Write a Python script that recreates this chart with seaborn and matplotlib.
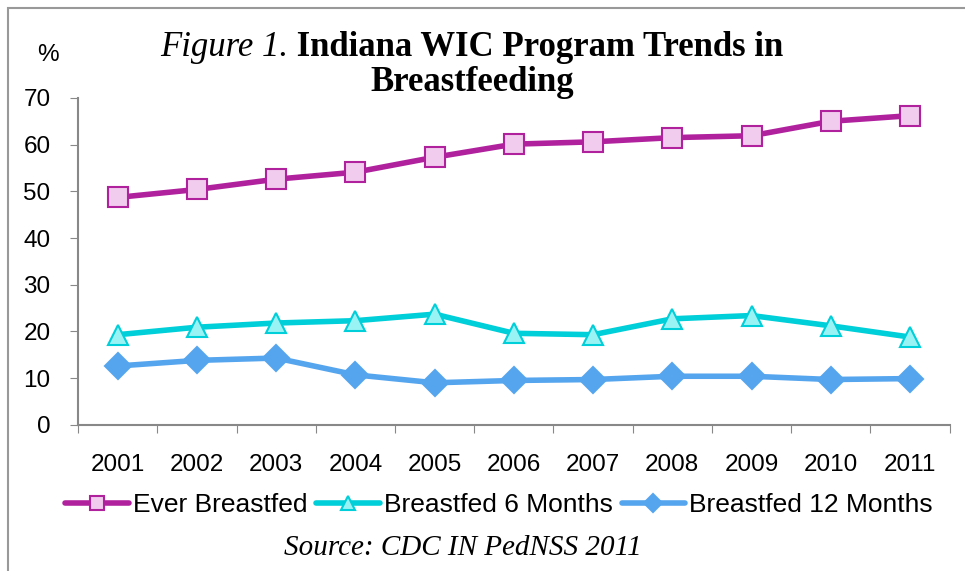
import pandas as pd
import matplotlib.pyplot as plt
import seaborn as sns
from matplotlib.patches import Rectangle
from matplotlib.ticker import FixedLocator

# data
years = ["2001", "2002", "2003", "2004", "2005", "2006", "2007", "2008", "2009", "2010", "2011"]
ever_breastfed = [48.7, 50.4, 52.6, 54.1, 57.3, 60.1, 60.6, 61.5, 61.9, 65.0, 66.2]
breastfed_6m = [19.3, 20.9, 21.8, 22.3, 23.7, 19.6, 19.3, 22.7, 23.4, 21.2, 18.8]
breastfed_12m = [12.6, 13.8, 14.3, 10.7, 9.0, 9.5, 9.7, 10.4, 10.4, 9.7, 9.9]

series_names = ["Ever Breastfed", "Breastfed 6 Months", "Breastfed 12 Months"]
line_colors = ["#B0219E", "#00CED8", "#55A5EE"]
face_colors = ["#F2CCEE", "#99F3F5", "#55A5EE"]
markers = ["s", "^", "D"]
marker_sizes = [14, 15, 13]

df = pd.DataFrame({
    "pos": list(range(len(years))) * 3,
    "value": ever_breastfed + breastfed_6m + breastfed_12m,
    "series": [n for n in series_names for _ in years],
})

sns.set_style("white", {"text.color": "black", "xtick.color": "black", "ytick.color": "black"})
plt.rcParams["font.family"] = ["Liberation Sans", "DejaVu Sans"]

W, H = 965, 571
fig = plt.figure(figsize=(9.65, 5.71), dpi=100)
ax = fig.add_axes([0.081, 0.256, 0.903, 0.5725])

for name, lc, fc, mk, ms in zip(series_names, line_colors, face_colors, markers, marker_sizes):
    sub = df[df["series"] == name]
    sns.lineplot(data=sub, x="pos", y="value", ax=ax, color=lc, linewidth=4.0,
                 marker=mk, markersize=ms, markerfacecolor=fc, markeredgecolor=lc,
                 markeredgewidth=1.5, label=name)

ax.set_xlim(-0.5, len(years) - 0.5)
ax.set_ylim(0, 70)
ax.set_yticks(range(0, 71, 10))
ax.xaxis.set_major_locator(FixedLocator([i - 0.5 for i in range(len(years) + 1)]))
ax.xaxis.set_minor_locator(FixedLocator(list(range(len(years)))))
ax.set_xticklabels([])
ax.set_xticklabels(years, minor=True)
ax.tick_params(axis="x", which="major", length=6, color="#888888", direction="out", bottom=True)
ax.tick_params(axis="x", which="minor", length=0, pad=21, labelsize=17.5, labelcolor="black")
ax.tick_params(axis="y", length=6, color="#888888", direction="out", left=True, pad=14,
               labelsize=17.5, labelcolor="black")
ax.set_xlabel("")
ax.set_ylabel("")
for s in ["top", "right"]:
    ax.spines[s].set_visible(False)
for s in ["left", "bottom"]:
    ax.spines[s].set_color("#888888")
    ax.spines[s].set_linewidth(1.5)

leg = ax.legend(loc="center", bbox_to_anchor=(499 / W, 1 - 505 / H), bbox_transform=fig.transFigure,
                ncol=3, frameon=False, fontsize=19, handlelength=2.4, handletextpad=0.15,
                columnspacing=0.35, markerscale=0.7)
for t in leg.get_texts():
    t.set_color("black")

# titles
fig.text(48 / W, 1 - 55 / H, "%", fontsize=17.5, ha="center", va="center", color="black")
t1 = fig.text(0, 1 - 47 / H, "Figure 1.", family="Liberation Serif",
              style="italic", fontsize=25, va="center", ha="left", color="black")
t2 = fig.text(0, 1 - 47 / H, " Indiana WIC Program Trends in",
              family="Liberation Serif", weight="bold", fontsize=25, va="center", ha="left", color="black")
fig.canvas.draw()
w1 = t1.get_window_extent().width
w2 = t2.get_window_extent().width
x0 = 472 - (w1 + w2) / 2
t1.set_x(x0 / W)
t2.set_x((x0 + w1) / W)
fig.text(472 / W, 1 - 83 / H, "Breastfeeding", family="Liberation Serif",
         weight="bold", fontsize=25, ha="center", va="center", color="black")
fig.text(463 / W, 1 - 548 / H, "Source: CDC IN PedNSS 2011", family="Liberation Serif",
         style="italic", fontsize=21, ha="center", va="center", color="black")

fig.patches.append(Rectangle((8 / W, -0.1), 1.2, 1.1 - 8 / H, transform=fig.transFigure,
                             fill=False, edgecolor="#999999", linewidth=1.5))

fig.savefig("out.png", dpi=100)
